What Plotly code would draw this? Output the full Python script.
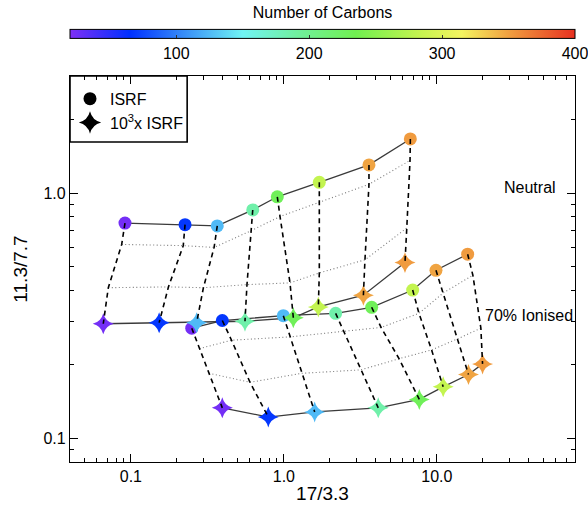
import math
import plotly.graph_objects as go

# ---------------- data ----------------
carbons = [24, 68, 125, 185, 230, 282, 348, 352]

# neutral, ISRF (circles) and intermediate fields, 10^3 x ISRF (stars)
neu_isrf_x = [0.0915, 0.226, 0.367, 0.626, 0.906, 1.705, 3.60, 6.71]
neu_isrf_y = [0.754, 0.743, 0.734, 0.853, 0.965, 1.105, 1.302, 1.661]
neu_10_x = [0.0871, 0.220, 0.350, 0.610, 0.944, 1.705, 3.60, 6.68]
neu_10_y = [0.617, 0.610, 0.600, 0.702, 0.802, 0.916, 1.085, 1.358]
neu_100_x = [0.0712, 0.176, 0.298, 0.574, 1.097, 1.705, 3.39, 6.36]
neu_100_y = [0.411, 0.414, 0.411, 0.423, 0.430, 0.472, 0.534, 0.720]
neu_1000_x = [0.0660, 0.153, 0.269, 0.557, 1.153, 1.680, 3.31, 6.19]
neu_1000_y = [0.293, 0.296, 0.296, 0.300, 0.310, 0.343, 0.383, 0.521]

# 70% ionised
ion_isrf_x = [0.250, 0.396, 0.992, 2.18, 3.75, 6.95, 9.87, 15.9]
ion_isrf_y = [0.281, 0.302, 0.316, 0.323, 0.342, 0.402, 0.484, 0.563]
ion_10_x = [0.281, 0.455, 1.10, 2.46, 4.32, 7.64, 11.0, 17.2]
ion_10_y = [0.232, 0.251, 0.259, 0.273, 0.283, 0.323, 0.391, 0.462]
ion_100_x = [0.324, 0.601, 1.31, 3.19, 5.66, 9.24, 13.6, 19.4]
ion_100_y = [0.184, 0.169, 0.184, 0.190, 0.211, 0.229, 0.254, 0.281]
ion_1000_x = [0.396, 0.791, 1.59, 4.14, 7.68, 11.0, 16.1, 19.9]
ion_1000_y = [0.133, 0.122, 0.128, 0.133, 0.144, 0.162, 0.182, 0.201]

x_tickvals = [0.1, 1, 10]
x_ticktext = ["0.1", "1.0", "10.0"]
y_tickvals = [0.1, 1]
y_ticktext = ["0.1", "1.0"]
cbar_tickvals = [100, 200, 300, 400]
c_min, c_max = 20, 400

# ---------------- styling ----------------
FONT = "Liberation Sans, Arial, Helvetica, sans-serif"
cscale = [
    [0.000, "#7f2ff5"],
    [0.118, "#0030ff"],
    [0.2105, "#3080f8"],
    [0.342, "#70f4f4"],
    [0.447, "#70f0a0"],
    [0.566, "#70f050"],
    [0.697, "#c8f450"],
    [0.776, "#f4f460"],
    [0.868, "#f0a040"],
    [1.000, "#e83020"],
]

fig = go.Figure()

solid = dict(color="#3a3a3a", width=1.3)
dotted = dict(color="#7a7a7a", width=1.1, dash="1px,2.5px")
dashed = dict(color="black", width=1.6, dash="5px,4px")

# solid lines: ISRF and 10^3 ISRF rows
for xs, ys in [(neu_isrf_x, neu_isrf_y), (neu_1000_x, neu_1000_y),
               (ion_isrf_x, ion_isrf_y), (ion_1000_x, ion_1000_y)]:
    fig.add_trace(go.Scatter(x=xs, y=ys, mode="lines", line=solid,
                             showlegend=False, hoverinfo="skip"))
# dotted lines: intermediate fields
for xs, ys in [(neu_10_x, neu_10_y), (neu_100_x, neu_100_y),
               (ion_10_x, ion_10_y), (ion_100_x, ion_100_y)]:
    fig.add_trace(go.Scatter(x=xs, y=ys, mode="lines", line=dotted,
                             showlegend=False, hoverinfo="skip"))

# markers
for xs, ys, sym, size, showscale in [
    (neu_isrf_x, neu_isrf_y, "circle", 13, True),
    (ion_isrf_x, ion_isrf_y, "circle", 13, False),
    (neu_1000_x, neu_1000_y, "star-diamond", 15, False),
    (ion_1000_x, ion_1000_y, "star-diamond", 15, False),
]:
    marker = dict(symbol=sym, size=size, color=carbons, colorscale=cscale,
                  cmin=c_min, cmax=c_max, line=dict(width=0),
                  showscale=showscale)
    if showscale:
        marker["colorbar"] = dict(
            orientation="h", thickness=9, len=1.0, lenmode="fraction",
            x=0.5, xanchor="center", xpad=0,
            y=1.097, yanchor="middle", ypad=0,
            outlinecolor="black", outlinewidth=1,
            tickvals=cbar_tickvals, ticks="inside", ticklen=3,
            ticklabeloverflow="allow",
            tickcolor="#333", tickfont=dict(size=16, family=FONT),
            title=dict(text="Number of Carbons", side="top",
                       font=dict(size=16, family=FONT)),
        )
    fig.add_trace(go.Scatter(x=xs, y=ys, mode="markers", marker=marker,
                             showlegend=False, hoverinfo="skip"))

# dashed lines along each carbon column (ISRF -> 10 -> 100 -> 10^3)
for grp in [(neu_isrf_x, neu_isrf_y, neu_10_x, neu_10_y, neu_100_x, neu_100_y, neu_1000_x, neu_1000_y),
            (ion_isrf_x, ion_isrf_y, ion_10_x, ion_10_y, ion_100_x, ion_100_y, ion_1000_x, ion_1000_y)]:
    dx, dy = [], []
    for i in range(len(carbons)):
        dx += [grp[0][i], grp[2][i], grp[4][i], grp[6][i], None]
        dy += [grp[1][i], grp[3][i], grp[5][i], grp[7][i], None]
    fig.add_trace(go.Scatter(x=dx, y=dy, mode="lines", line=dashed,
                             showlegend=False, hoverinfo="skip"))

# legend entries
fig.add_trace(go.Scatter(x=[None], y=[None], mode="markers", name="ISRF",
                         marker=dict(symbol="circle", size=13, color="black")))
fig.add_trace(go.Scatter(x=[None], y=[None], mode="markers",
                         name="10<sup>3</sup>x ISRF",
                         marker=dict(symbol="star-diamond", size=17, color="black")))

minor_vals = [m * 10 ** e for e in range(-3, 3) for m in range(2, 10)]

axis_common = dict(
    type="log", showgrid=False, zeroline=False, showline=True,
    linecolor="black", linewidth=1.3, mirror="ticks",
    ticks="inside", ticklen=8, tickwidth=1.2, tickcolor="black",
    tickfont=dict(size=16, family=FONT),
    minor=dict(tickvals=minor_vals, ticks="inside", ticklen=4,
               tickwidth=1, tickcolor="black", showgrid=False),
)

fig.update_layout(
    width=588, height=514,
    margin=dict(l=70, r=13, t=70, b=52),
    paper_bgcolor="white", plot_bgcolor="white",
    font=dict(family=FONT, size=16, color="black"),
    xaxis=dict(axis_common, range=[math.log10(0.04), math.log10(80)],
               tickvals=x_tickvals, ticktext=x_ticktext,
               title=dict(text="17/3.3", standoff=2)),
    yaxis=dict(axis_common, range=[math.log10(0.08), math.log10(3.0)],
               tickvals=y_tickvals, ticktext=y_ticktext,
               title=dict(text="11.3/7.7", standoff=10)),
    legend=dict(x=0.0, y=0.985, xanchor="left", yanchor="top",
                bgcolor="rgba(0,0,0,0)", borderwidth=0,
                font=dict(size=16, family=FONT), itemwidth=30,
                tracegroupgap=0),
    shapes=[dict(type="rect", xref="paper", yref="paper",
                 x0=0, x1=0.232, y0=0.829, y1=1.0,
                 line=dict(color="black", width=1.6))],
    annotations=[
        dict(text="Neutral", xref="paper", yref="paper", x=0.855, y=0.712,
             xanchor="left", yanchor="middle", showarrow=False,
             font=dict(size=16, family=FONT)),
        dict(text="70% Ionised", xref="paper", yref="paper", x=0.818, y=0.380,
             xanchor="left", yanchor="middle", showarrow=False,
             font=dict(size=16, family=FONT)),
    ],
)

fig.write_html("out.html")
